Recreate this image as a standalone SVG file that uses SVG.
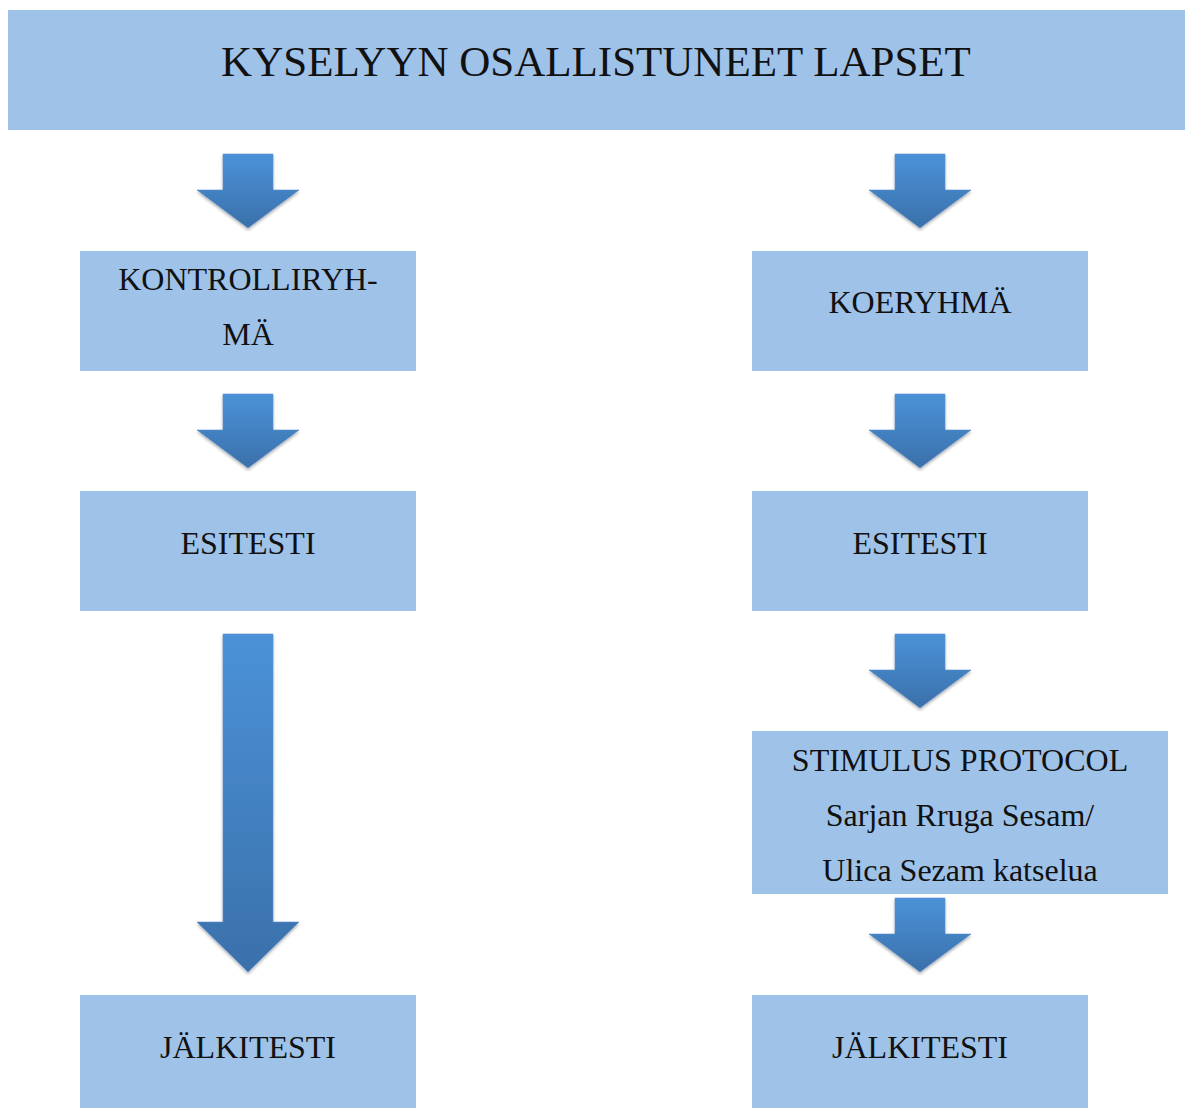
<svg xmlns="http://www.w3.org/2000/svg" width="1186" height="1108" viewBox="0 0 1186 1108">
<style>
.box{fill:#9fc2e9}
.t{font-family:"Liberation Serif","Times New Roman",serif;font-size:32px;fill:#111;text-anchor:middle}
.title{font-size:43px}
.arr{fill:url(#g);stroke:#5a8fcf;stroke-width:0.6}
</style>
<defs>
<linearGradient id="g" x1="0" y1="0" x2="0" y2="1">
<stop offset="0" stop-color="#4b92d8"/>
<stop offset="1" stop-color="#3a70aa"/>
</linearGradient>
<filter id="sh" x="-20%" y="-20%" width="140%" height="140%">
<feDropShadow dx="0" dy="2" stdDeviation="1.5" flood-color="#000" flood-opacity="0.3"/>
</filter>
</defs>
<rect width="1186" height="1108" fill="#fff"/>
<g id="connectors" filter="url(#sh)">
<path class="arr" d="M223,154 H273 V190 H299 L248,228 L197,190 H223 Z"/>
<path class="arr" d="M895,154 H945 V190 H971 L920,228 L869,190 H895 Z"/>
<path class="arr" d="M223,394 H273 V430 H299 L248,468 L197,430 H223 Z"/>
<path class="arr" d="M895,394 H945 V430 H971 L920,468 L869,430 H895 Z"/>
<path class="arr" d="M223,634 H273 V922 H299 L248,972 L197,922 H223 Z"/>
<path class="arr" d="M895,634 H945 V670 H971 L920,708 L869,670 H895 Z"/>
<path class="arr" d="M895,898 H945 V934 H971 L920,972 L869,934 H895 Z"/>
</g>
<g id="n-title"><rect class="box" x="8" y="10" width="1177" height="120"/><text class="t title" x="596" y="76">KYSELYYN OSALLISTUNEET LAPSET</text></g>
<g id="n-kontrolli"><rect class="box" x="80" y="251" width="336" height="120"/><text class="t" x="248" y="290">KONTROLLIRYH-</text><text class="t" x="248" y="345">MÄ</text></g>
<g id="n-koe"><rect class="box" x="752" y="251" width="336" height="120"/><text class="t" x="920" y="313">KOERYHMÄ</text></g>
<g id="n-esitesti1"><rect class="box" x="80" y="491" width="336" height="120"/><text class="t" x="248" y="554">ESITESTI</text></g>
<g id="n-esitesti2"><rect class="box" x="752" y="491" width="336" height="120"/><text class="t" x="920" y="554">ESITESTI</text></g>
<g id="n-stimulus"><rect class="box" x="752" y="731" width="416" height="163"/><text class="t" x="960" y="771">STIMULUS PROTOCOL</text><text class="t" x="960" y="826">Sarjan Rruga Sesam/</text><text class="t" x="960" y="881">Ulica Sezam katselua</text></g>
<g id="n-jalki1"><rect class="box" x="80" y="995" width="336" height="113"/><text class="t" x="248" y="1058">JÄLKITESTI</text></g>
<g id="n-jalki2"><rect class="box" x="752" y="995" width="336" height="113"/><text class="t" x="920" y="1058">JÄLKITESTI</text></g>
</svg>
